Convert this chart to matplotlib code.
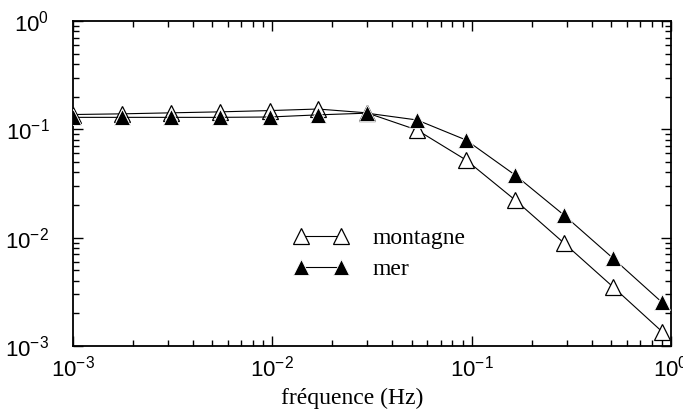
import numpy as np
import matplotlib
matplotlib.use("Agg")
import matplotlib.pyplot as plt

plt.rcParams["font.family"] = ["Liberation Sans", "DejaVu Sans"]
plt.rcParams["mathtext.fontset"] = "custom"
plt.rcParams["mathtext.rm"] = "Liberation Sans"
plt.rcParams["mathtext.it"] = "Liberation Sans:italic"
plt.rcParams["mathtext.bf"] = "Liberation Sans:bold"

# frequencies (Hz) of the plotted points
freq = [1.0e-3, 1.76e-3, 3.10e-3, 5.46e-3, 9.73e-3, 1.69e-2, 2.98e-2,
        5.32e-2, 9.37e-2, 0.165, 0.290, 0.512, 0.901]
montagne = [0.137, 0.139, 0.142, 0.145, 0.149, 0.154, 0.142,
            0.0986, 0.0521, 0.0223, 0.00894, 0.00351, 0.00136]
mer = [0.129, 0.129, 0.129, 0.129, 0.130, 0.136, 0.141,
       0.122, 0.0797, 0.0379, 0.0162, 0.00645, 0.00253]

fig = plt.figure(figsize=(6.83, 4.13), dpi=100)
ax = fig.add_axes([73 / 683, 67 / 413, 598 / 683, 325 / 413])

ax.plot(freq, montagne, color="black", lw=0.8, marker="^", ms=11,
        mfc="white", mec="black", mew=0.9, label="montagne", zorder=3)
ax.plot(freq, mer, color="black", lw=0.8, marker="^", ms=11,
        mfc="black", mec="white", mew=0.6, label="mer", zorder=4)

ax.set_xscale("log")
ax.set_yscale("log")
ax.set_xlim(1e-3, 1e0)
ax.set_ylim(1e-3, 1e0)

for s in ax.spines.values():
    s.set_linewidth(1.3)
ax.tick_params(which="both", direction="in", top=True, right=True, width=1.0)
ax.tick_params(which="major", length=7.5, labelsize=16)
ax.tick_params(which="minor", length=4.5)
ax.tick_params(axis="y", which="major", pad=17)
ax.tick_params(axis="x", which="major", pad=7)

ax.set_xlabel("fréquence (Hz)", fontsize=17, family="Liberation Serif")
ax.xaxis.set_label_coords(0.467, -0.13)

leg = ax.legend(loc="center left", bbox_to_anchor=(0.369, 0.283),
                frameon=False, numpoints=2, handlelength=2.3,
                handletextpad=1.05, labelspacing=0.4, borderpad=0,
                borderaxespad=0,
                prop={"family": "Liberation Serif", "size": 17})

fig.savefig("out.png", dpi=100)
